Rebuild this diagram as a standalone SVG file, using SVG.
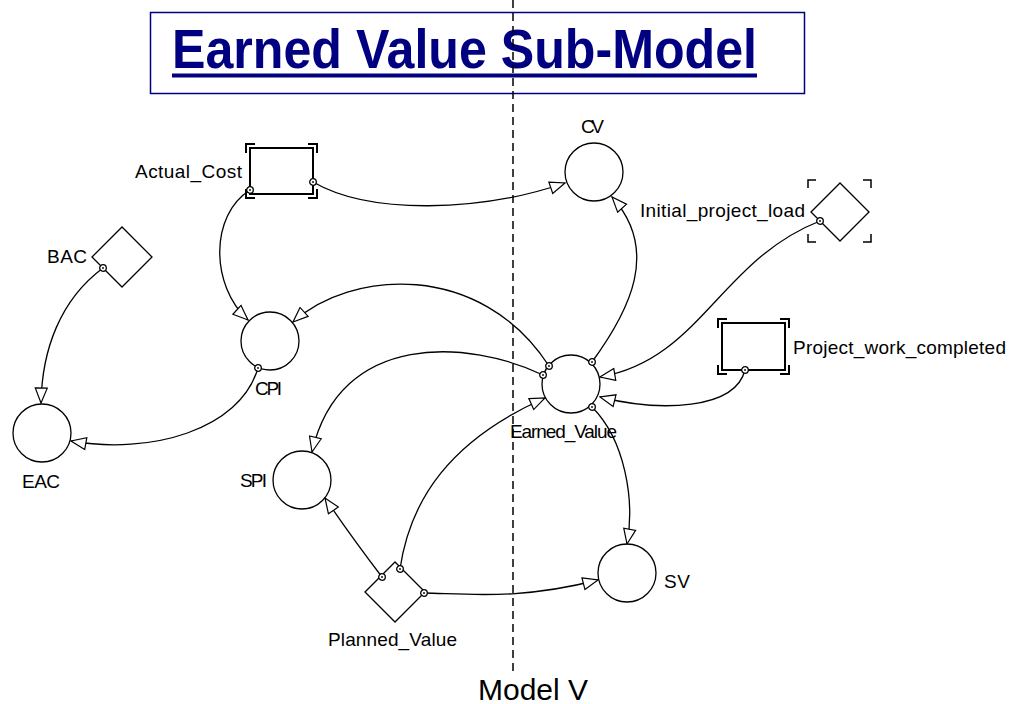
<svg xmlns="http://www.w3.org/2000/svg" width="1014" height="704" viewBox="0 0 1014 704">
  <style>
    .lbl { font-family: "Liberation Sans", Arial, sans-serif; font-size: 19px; fill: #000; }
    .aux { fill: #fff; stroke: #000; stroke-width: 1.3; }
    .stock { fill: #fff; stroke: #000; stroke-width: 2; }
    .brk { fill: none; stroke: #000; stroke-width: 2; }
    .link { fill: none; stroke: #000; stroke-width: 1.3; marker-start: url(#dot); marker-end: url(#arrow); }
  </style>
  <defs>
    <marker id="arrow" viewBox="0 0 17 14" refX="16" refY="7" markerWidth="17" markerHeight="14" orient="auto" markerUnits="userSpaceOnUse">
      <path d="M1,1 L16,7 L1,13 Z" fill="#fff" stroke="#000" stroke-width="1.2"/>
    </marker>
    <marker id="dot" viewBox="0 0 9 9" refX="4.5" refY="4.5" markerWidth="9" markerHeight="9" markerUnits="userSpaceOnUse">
      <circle cx="4.5" cy="4.5" r="3.3" fill="#fff" stroke="#000" stroke-width="1.3"/>
      <circle cx="4.5" cy="4.5" r="0.9" fill="#000"/>
    </marker>
  </defs>
  <rect width="1014" height="704" fill="#fff"/>

  <!-- title -->
  <g id="title">
    <rect x="150.5" y="12.5" width="654" height="81" fill="none" stroke="#000080" stroke-width="1.5"/>
    <text x="172" y="68" font-family="'Liberation Sans', Arial, sans-serif" font-size="56" font-weight="bold" fill="#000080" textLength="585" lengthAdjust="spacingAndGlyphs">Earned Value Sub-Model</text>
    <line x1="172" y1="75.5" x2="757" y2="75.5" stroke="#000080" stroke-width="4"/>
  </g>

  <!-- model boundary -->
  <line x1="513" y1="0" x2="513" y2="672" stroke="#000" stroke-width="1.5" stroke-dasharray="8,5"/>

  <!-- stocks -->
  <g id="Actual_Cost">
    <rect class="stock" x="250" y="148" width="63" height="46"/>
    <path class="brk" d="M246,153 V144 H255 M308,144 H317 V153 M246,189 V198 H255 M308,198 H317 V189"/>
    <text class="lbl" x="135" y="178" textLength="107">Actual_Cost</text>
  </g>
  <g id="Project_work_completed">
    <rect class="stock" x="722" y="323" width="63" height="47"/>
    <path class="brk" d="M718,328 V319 H727 M780,319 H789 V328 M718,365 V374 H727 M780,374 H789 V365"/>
    <text class="lbl" x="793" y="354" textLength="213">Project_work_completed</text>
  </g>

  <!-- constants -->
  <g id="Initial_project_load">
    <path class="aux" d="M811,212 L840,183 L869,212 L840,241 Z"/>
    <path fill="none" stroke="#000" stroke-width="1.5" d="M808,188 V180 H816 M863,180 H871 V188 M808,234 V242 H816 M863,242 H871 V234"/>
    <text class="lbl" x="640" y="217" textLength="165">Initial_project_load</text>
  </g>
  <g id="BAC">
    <path class="aux" d="M92,257 L122,227 L152,257 L122,287 Z"/>
    <text class="lbl" x="47" y="263" textLength="40">BAC</text>
  </g>
  <g id="Planned_Value">
    <path class="aux" d="M365,592 L395,562 L425,592 L395,622 Z"/>
    <text class="lbl" x="328" y="646" textLength="129">Planned_Value</text>
  </g>

  <!-- converters -->
  <g id="CV">
    <circle class="aux" cx="594" cy="172" r="29"/>
    <text class="lbl" x="581" y="133" textLength="23">CV</text>
  </g>
  <g id="CPI">
    <circle class="aux" cx="270" cy="341" r="29"/>
    <text class="lbl" x="255" y="395" textLength="27">CPI</text>
  </g>
  <g id="EAC">
    <circle class="aux" cx="42" cy="433" r="29"/>
    <text class="lbl" x="22" y="488" textLength="38">EAC</text>
  </g>
  <g id="Earned_Value">
    <circle class="aux" cx="571" cy="384" r="29"/>
    <text class="lbl" x="510" y="438" textLength="107">Earned_Value</text>
  </g>
  <g id="SPI">
    <circle class="aux" cx="302" cy="480" r="29"/>
    <text class="lbl" x="240" y="487" textLength="27">SPI</text>
  </g>
  <g id="SV">
    <circle class="aux" cx="627" cy="573" r="29"/>
    <text class="lbl" x="664" y="588" textLength="26">SV</text>
  </g>

  <!-- connectors -->
  <g id="connectors">
    <path class="link" d="M313,182 C370,215 480,212 565,183"/>
    <path class="link" d="M250,190 C210,215 210,285 248,320"/>
    <path class="link" d="M103,268 C60,300 42,350 41,403"/>
    <path class="link" d="M258,368 C240,430 150,455 71,441"/>
    <path class="link" d="M549,366 C480,260 350,270 293,322"/>
    <path class="link" d="M592,362 C630,310 660,250 612,197"/>
    <path class="link" d="M820,221 C720,260 700,360 600,377"/>
    <path class="link" d="M745,370 C735,410 660,412 600,397"/>
    <path class="link" d="M543,375 C470,340 340,330 312,452"/>
    <path class="link" d="M400,569 C410,500 450,440 545,398"/>
    <path class="link" d="M382,577 Q350,535 325,498"/>
    <path class="link" d="M424,593 C470,594 520,600 598,580"/>
    <path class="link" d="M592,407 C625,440 635,500 627,544"/>
  </g>

  <text x="533" y="700" text-anchor="middle" font-family="'Liberation Sans', Arial, sans-serif" font-size="30" fill="#000">Model V</text>
</svg>
